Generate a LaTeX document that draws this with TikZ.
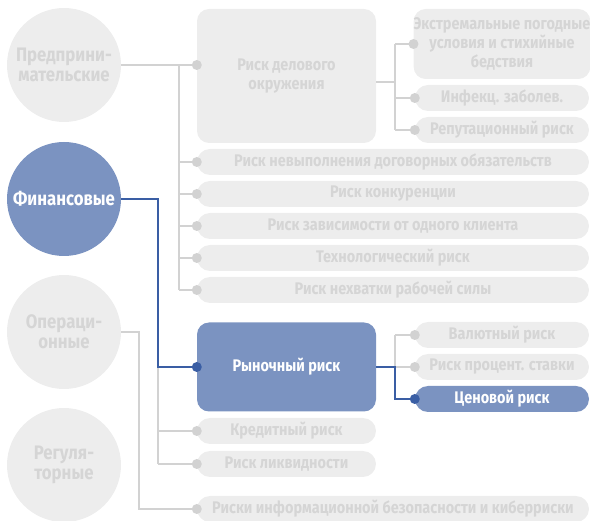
\documentclass[tikz,border=0pt]{standalone}
\usepackage{fontspec}
\setmainfont{Fira Sans}[FakeStretch=0.86]
\usetikzlibrary{positioning}

\definecolor{boxgray}{HTML}{EDEDED}
\definecolor{textgray}{HTML}{D5D5D5}
\definecolor{linegray}{HTML}{D2D2D2}
\definecolor{boxblue}{HTML}{7B93C1}
\definecolor{lineblue}{HTML}{3A5EA4}

\tikzset{
    riskfont/.style={font=\bfseries\fontsize{16.8}{19}\selectfont},
    risk/.style={riskfont, fill=boxgray, text=textgray, rounded corners=13pt, align=center, inner sep=0pt, minimum height=26pt},
    hot/.style={fill=boxblue, text=white},
    group/.style={font=\bfseries\fontsize{19.5}{20}\selectfont, circle, fill=boxgray, text=textgray, minimum size=114pt, align=center, inner sep=0pt},
    link/.style={draw=linegray, line width=2.6pt},
    hotlink/.style={draw=lineblue, line width=2.2pt},
    dot/.style={circle, fill=linegray, inner sep=0pt, minimum size=10pt},
    hotdot/.style={dot, fill=lineblue},
}

\begin{document}
\begin{tikzpicture}[x=1pt, y=-1pt]
    \useasboundingbox (0,0) rectangle (590,521);

    % Risk groups (circles on the left)
    \node[group] (ent) at (64,65) {Предприни-\\мательские};
    \node[group, hot] (fin) at (64,199) {Финансовые};
    \node[group] (ops) at (64,332) {Операци-\\онные};
    \node[group] (reg) at (64,465) {Регуля-\\торные};

    % Business risks
    \node[risk, rounded corners=12pt, minimum width=179pt, minimum height=134pt] (biz) at (286.5,76) {Риск делового\\окружения};
    \node[risk, rounded corners=12pt, minimum width=174pt, minimum height=70pt] (ext) at (502,44) {Экстремальные погодные\\условия и стихийные\\бедствия};
    \node[risk, minimum width=174pt] (inf) at (502,98) {Инфекц. заболев.};
    \node[risk, minimum width=174pt] (rep) at (502,130) {Репутационный риск};
    \node[risk, minimum width=392pt] (contract) at (393,162) {Риск невыполнения договорных обязательств};
    \node[risk, minimum width=392pt] (compet) at (393,194) {Риск конкуренции};
    \node[risk, minimum width=392pt] (client) at (393,226) {Риск зависимости от одного клиента};
    \node[risk, minimum width=392pt] (tech) at (393,258) {Технологический риск};
    \node[risk, minimum width=392pt] (labor) at (393,290) {Риск нехватки рабочей силы};

    % Financial risks
    \node[risk, hot, rounded corners=12pt, minimum width=179pt, minimum height=89pt] (market) at (286.5,367) {Рыночный риск};
    \node[risk, minimum width=174pt] (fx) at (502,335) {Валютный риск};
    \node[risk, minimum width=174pt] (rate) at (502,367) {Риск процент. ставки};
    \node[risk, hot, minimum width=174pt] (price) at (502,399) {Ценовой риск};
    \node[risk, minimum width=179pt] (credit) at (286.5,431) {Кредитный риск};
    \node[risk, minimum width=179pt] (liq) at (286.5,464) {Риск ликвидности};

    % Operational risks
    \node[risk, minimum width=392pt] (cyber) at (393,509) {Риски информационной безопасности и киберриски};

    % Trunk of the business group
    \coordinate (entjoin) at (179,65);
    \draw[link] (ent.east) -- (ent.east -| biz.west);
    \draw[link] (entjoin) -- (entjoin |- labor.west);
    \foreach \n in {contract,compet,client,tech,labor}
        \draw[link] (entjoin |- \n.west) -- (\n.west);

    % Branch of the business environment box
    \coordinate (bizout) at (376,82);
    \coordinate (bizjoin) at (395,82);
    \draw[link] (bizout) -- (bizjoin);
    \draw[link] (bizjoin |- ext.west) -- (bizjoin |- rep.west);
    \foreach \n in {ext,inf,rep}
        \draw[link] (bizjoin |- \n.west) -- (\n.west);

    % Financial group: highlighted path down to the market risk
    \coordinate (finjoin) at (158,199);
    \draw[link] (finjoin |- market.west) -- (finjoin |- liq.west);
    \foreach \n in {credit,liq}
        \draw[link] (finjoin |- \n.west) -- (\n.west);
    \draw[hotlink] (fin.east) -- (finjoin) -- (finjoin |- market.west) -- (market.west);

    % Market risk branch
    \coordinate (mktjoin) at (395,367);
    \draw[link] (mktjoin |- fx.west) -- (mktjoin);
    \foreach \n in {fx,rate}
        \draw[link] (mktjoin |- \n.west) -- (\n.west);
    \draw[hotlink] (market.east) -- (mktjoin) -- (mktjoin |- price.west) -- (price.west);

    % Operational group
    \coordinate (opsjoin) at (139,332);
    \draw[link] (ops.east) -- (opsjoin) -- (opsjoin |- cyber.west) -- (cyber.west);

    % Dots where the links meet the boxes
    \foreach \n in {contract,compet,client,tech,labor,ext,inf,rep,fx,rate,credit,liq,cyber}
        \node[dot] at (\n.west) {};
    \node[dot] at (ent.east -| biz.west) {};
    \node[hotdot] at (market.west) {};
    \node[hotdot] at (price.west) {};
\end{tikzpicture}
\end{document}
